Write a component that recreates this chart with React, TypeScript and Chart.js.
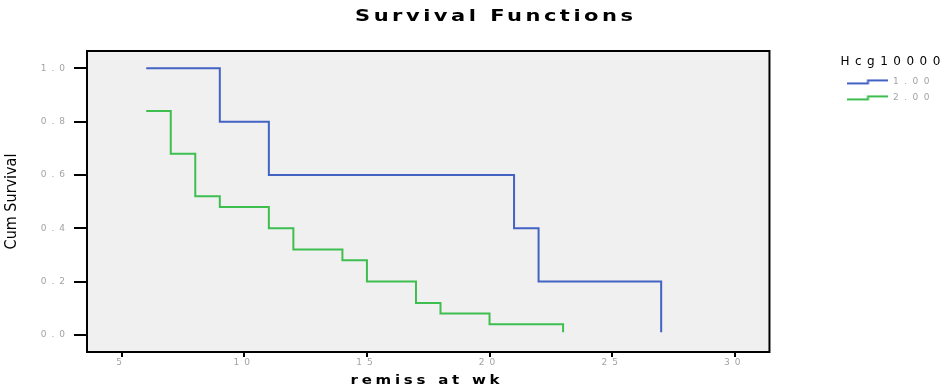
import { useEffect, useRef, useState } from 'react';
import { Chart, registerables } from 'chart.js';

Chart.register(...registerables);

// ---- data ----
const groupLabels = ['1.00', '2.00'];
const group1Times = [6, 9, 11, 21, 22, 27];
const group1Survival = [1.0, 0.8, 0.6, 0.4, 0.2, 0.01];
const group2Times = [6, 7, 8, 9, 11, 12, 14, 15, 17, 18, 20, 23];
const group2Survival = [0.84, 0.68, 0.52, 0.48, 0.4, 0.32, 0.28, 0.2, 0.12, 0.08, 0.04, 0.01];
const xTickValues = [5, 10, 15, 20, 25, 30];
const yTickValues = [0, 0.2, 0.4, 0.6, 0.8, 1.0];

const chartTitle = 'Survival Functions';
const xAxisTitle = 'remiss at wk';
const yAxisTitle = 'Cum Survival';
const legendTitle = 'Hcg10000';

const BLUE = '#4262c4';
const GREEN = '#3dbe4f';
const GREY = '#a3a3a3';
const X_TICK_LEN = 5;
const Y_TICK_LEN = 13;

type Mark = { left: number; top: number; w: number; h: number };

function makeStepIcon(color: string) {
  const c = document.createElement('canvas');
  c.width = 41;
  c.height = 7;
  const g = c.getContext('2d')!;
  g.strokeStyle = color;
  g.lineWidth = 2;
  g.beginPath();
  g.moveTo(0, 5);
  g.lineTo(20.5, 5);
  g.lineTo(20.5, 2);
  g.lineTo(41, 2);
  g.stroke();
  return c;
}

function pixelFor(scale: any, v: number, horizontal: boolean, a: any) {
  let p = scale.getPixelForValue(v);
  if (!Number.isFinite(p)) {
    const f = (v - scale.min) / (scale.max - scale.min);
    p = horizontal ? a.left + f * (a.right - a.left) : a.bottom - f * (a.bottom - a.top);
  }
  return Math.round(p);
}

// outside tick marks, positioned by the chart's own scales
function tickMarks(chart: any): Mark[] {
  const a = chart.chartArea;
  const xs = chart.scales.x;
  const ys = chart.scales.y;
  if (!a || !xs || !ys) return [];
  return [
    ...xTickValues.map((v) => ({ left: pixelFor(xs, v, true, a) - 1, top: a.bottom, w: 2, h: X_TICK_LEN })),
    ...yTickValues.map((v) => ({ left: a.left - Y_TICK_LEN, top: pixelFor(ys, v, false, a) - 1, w: Y_TICK_LEN, h: 2 })),
  ];
}

// plot frame: grey panel, black box, tick marks
const framePlugin = {
  id: 'frame',
  beforeDraw(chart: any) {
    const { ctx, chartArea: a } = chart;
    ctx.save();
    ctx.fillStyle = '#f0f0f0';
    ctx.fillRect(a.left, a.top, a.right - a.left, a.bottom - a.top);
    ctx.restore();
  },
  afterDraw(chart: any) {
    const { ctx, chartArea: a } = chart;
    ctx.save();
    ctx.strokeStyle = '#000';
    ctx.lineWidth = 2;
    ctx.strokeRect(a.left, a.top, a.right - a.left, a.bottom - a.top);
    ctx.fillStyle = '#000';
    for (const m of tickMarks(chart)) ctx.fillRect(m.left, m.top, m.w, m.h);
    ctx.restore();
  },
};

// text styling helpers: letter spacing and horizontal stretch, as in the SPSS output
type TextStyle = { spacing: number; sx?: number; from?: () => number; to?: number };

const textPlugin = {
  id: 'textStyle',
  beforeLayout(chart: any) {
    const leg = chart.legend;
    if (leg && !leg.__fitWrapped) {
      const f = leg.fit.bind(leg);
      leg.fit = () => {
        f();
        leg.width = Math.min(leg.width + 24, leg.maxWidth);
      };
      leg.__fitWrapped = true;
    }
  },
  beforeDraw(chart: any) {
    const ctx = chart.ctx;
    const wrap = (obj: any, name: string, st: TextStyle) => {
      if (!obj || obj['__w_' + name]) return;
      const orig = obj[name].bind(obj);
      obj[name] = (...args: any[]) => {
        ctx.save();
        (ctx as any).letterSpacing = st.spacing + 'px';
        if (st.sx && st.from && st.to !== undefined) {
          const src = st.from() - st.spacing / 2;
          ctx.translate(st.to, 0);
          ctx.scale(st.sx, 1);
          ctx.translate(-src, 0);
        }
        try {
          orig(...args);
        } finally {
          ctx.restore();
        }
      };
      obj['__w_' + name] = true;
    };
    const tb = chart.titleBlock;
    const xs = chart.scales.x;
    wrap(tb, 'draw', { spacing: 2.5, sx: 1.4, from: () => (tb.left + tb.right) / 2, to: 494 });
    wrap(chart.legend, 'draw', { spacing: 5.5 });
    wrap(xs, 'drawLabels', { spacing: 5 });
    wrap(xs, 'drawTitle', { spacing: 3, sx: 1.25, from: () => (xs.left + xs.right) / 2, to: 425 });
    wrap(chart.scales.y, 'drawLabels', { spacing: 5 });
  },
};

export default function App() {
  const ref = useRef<HTMLCanvasElement>(null);
  const [marks, setMarks] = useState<Mark[]>([]);

  useEffect(() => {
    Chart.defaults.font.family = '"DejaVu Sans", sans-serif';
    const series = [
      { label: groupLabels[0], times: group1Times, surv: group1Survival, color: BLUE },
      { label: groupLabels[1], times: group2Times, surv: group2Survival, color: GREEN },
    ];
    const tickGrid = (len: number) => ({
      display: true,
      drawOnChartArea: false,
      drawTicks: true,
      tickLength: len,
      tickWidth: 2,
      tickColor: '#000',
      color: '#000',
      lineWidth: 2,
    });
    const chart = new Chart(ref.current!, {
      type: 'scatter',
      data: {
        datasets: series.map((s) => ({
          label: s.label,
          data: s.times.map((t, i) => ({ x: t, y: s.surv[i] })),
          showLine: true,
          stepped: 'before' as const,
          borderColor: s.color,
          backgroundColor: s.color,
          borderWidth: 2,
          pointRadius: 0,
          pointHoverRadius: 0,
          pointStyle: makeStepIcon(s.color) as any,
          fill: false,
        })),
      },
      options: {
        animation: false,
        responsive: true,
        maintainAspectRatio: false,
        layout: { padding: { top: 0, right: 0, bottom: 0, left: 0 } },
        plugins: {
          tooltip: { enabled: false },
          title: {
            display: true,
            text: chartTitle,
            color: '#000',
            font: { size: 15, weight: 'bold', family: '"DejaVu Sans", sans-serif' },
            padding: { top: 8, bottom: 25 },
          },
          legend: {
            display: true,
            position: 'right',
            align: 'start',
            title: {
              display: true,
              text: legendTitle,
              position: 'start',
              color: '#000',
              font: { size: 12, family: '"DejaVu Sans", sans-serif' },
              padding: { top: 56, bottom: 0 },
            },
            labels: {
              usePointStyle: true,
              pointStyleWidth: 41,
              padding: 7,
              color: GREY,
              font: { size: 9 },
            },
          },
        },
        scales: {
          x: {
            type: 'linear',
            position: 'bottom',
            min: 3.584,
            max: 31.416,
            afterBuildTicks: (s: any) => {
              s.ticks = xTickValues.map((v) => ({ value: v }));
            },
            afterFit: (s: any) => {
              s.height = 36;
            },
            ticks: {
              autoSkip: false,
              maxRotation: 0,
              color: GREY,
              font: { size: 9 },
              padding: 0,
            },
            grid: tickGrid(X_TICK_LEN),
            border: { display: false },
            title: {
              display: true,
              text: xAxisTitle,
              color: '#000',
              font: { size: 12, weight: 'bold' },
              padding: { top: 0, bottom: 0 },
            },
          },
          y: {
            type: 'linear',
            position: 'left',
            min: -0.064,
            max: 1.065,
            afterBuildTicks: (s: any) => {
              s.ticks = yTickValues.map((v) => ({ value: v }));
            },
            afterFit: (s: any) => {
              s.width = 87;
            },
            ticks: {
              autoSkip: false,
              color: GREY,
              font: { size: 9 },
              padding: 4,
              callback: (v: any) => Number(v).toFixed(1),
            },
            grid: tickGrid(Y_TICK_LEN),
            border: { display: false },
            title: {
              display: true,
              text: yAxisTitle,
              color: '#000',
              font: { size: 16, family: '"Liberation Sans Narrow", "DejaVu Sans Condensed", sans-serif' },
              padding: { top: 2, bottom: 0 },
            },
          },
          gap: {
            type: 'linear',
            position: 'right',
            display: true,
            grid: { display: false },
            ticks: { display: false },
            border: { display: false },
            afterFit: (s: any) => {
              s.width = 71;
            },
          },
        },
      } as any,
      plugins: [framePlugin, textPlugin],
    });
    setMarks(tickMarks(chart));
    return () => chart.destroy();
  }, []);

  return (
    <div style={{ position: 'fixed', left: 0, top: 0, width: 947, height: 388, background: '#fff' }}>
      <canvas ref={ref} />
      {marks.map((m, i) => (
        <div
          key={i}
          style={{ position: 'absolute', left: m.left, top: m.top, width: m.w, height: m.h, background: '#000' }}
        />
      ))}
    </div>
  );
}
